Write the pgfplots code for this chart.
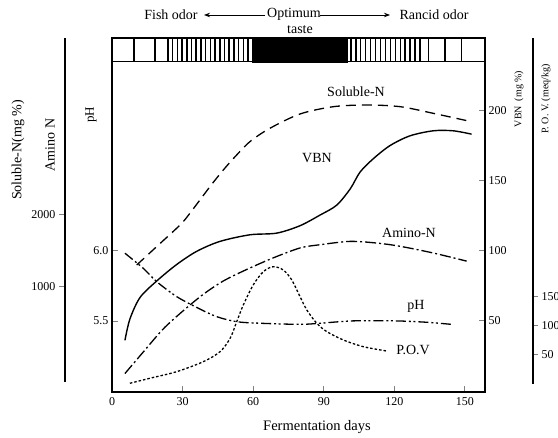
\documentclass[border=0pt]{standalone}
\usepackage{pgfplots}
\pgfplotsset{compat=1.18}
\usepackage{fontspec}
\setmainfont{Liberation Serif}
\usetikzlibrary{arrows.meta}
\newcommand{\fs}[1]{\fontsize{#1}{#1}\selectfont}

\pgfplotsset{
  frame/.style={at={(112pt,-392pt)}, anchor=south west, scale only axis,
    width=373pt, height=354pt, xmin=0, xmax=158.5},
  every tick label/.append style={font=\fs{12}},
  /pgf/number format/assume math mode=true,
  /pgf/number format/1000 sep={},
}

\begin{document}
\begin{tikzpicture}
\useasboundingbox (0pt,0pt) rectangle (558pt,-438pt);

% P.O.V. (meq/kg)
\begin{axis}[frame, hide axis, ymin=-13.2, ymax=593]
\addplot[smooth, line width=1.3pt, dash pattern=on 2.5pt off 2pt] coordinates {
  (7.6,1.7) (16.1,10.3) (27.5,21.6) (38.8,38.7) (45.9,55.8) (50.2,78.8)
  (53.0,107.2) (55.8,135.8) (60.0,170.0) (64.3,192.8) (68.5,201.4)
  (72.8,195.7) (76.4,178.6) (79.9,150.0) (82.8,127.2) (87.0,104.5)
  (91.3,90.1) (98.3,75.9) (106.8,64.4) (116.7,57.0)};
\end{axis}

% Soluble-N (mg %)
\begin{axis}[frame, hide axis, ymin=-456.4, ymax=4439.8]
\addplot[smooth, line width=1.3pt, dash pattern=on 10pt off 6pt] coordinates {
  (10.5,1300) (19.5,1570) (28.9,1853) (33.1,2015) (41.6,2383) (47.3,2614)
  (52.3,2798) (58.6,3006) (67.1,3191) (79.9,3389) (94.1,3490) (108.2,3513)
  (122.4,3490) (136.5,3398) (152.8,3282)};
\end{axis}

% pH
\begin{axis}[frame, ymin=4.993, ymax=7.521, axis line style={draw=none},
  xtick=\empty, ytick={5.5,6}, yticklabels={5.5,6.0}, ytick pos=left,
  tick align=inside, major tick length=6pt, tick style={line width=1pt}]
\addplot[smooth, line width=1.3pt,
  dash pattern=on 10pt off 3pt on 2pt off 2.5pt on 2pt off 3pt] coordinates {
  (5.5,5.984) (13.3,5.876) (19.0,5.781) (27.5,5.674) (36.7,5.591)
  (44.5,5.531) (53.0,5.495) (62.9,5.484) (79.9,5.476) (88.4,5.484)
  (101.1,5.500) (112.5,5.502) (122.4,5.500) (133.7,5.491) (144.3,5.476)};
\end{axis}

% main frame: VBN and Amino-N (mg %), odour scale
\begin{axis}[frame, ymin=-1.2, ymax=251.7,
  axis line style={line width=1.2pt},
  xtick={0,30,60,90,120,150}, xtick pos=bottom,
  ytick={50,100,150,200}, ytick pos=right, yticklabel pos=right,
  tick align=inside, major tick length=6pt, tick style={line width=1pt},
  xticklabel style={yshift=-2pt}]
% VBN
\addplot[smooth, line width=1.4pt] coordinates {
  (5.5,35.7) (7.6,50.9) (11.9,66.3) (19.0,78.1) (27.5,89.9) (36.0,99.3)
  (45.9,106.4) (58.6,111.1) (70.0,112.3) (79.9,117.6) (88.4,125.2)
  (95.5,132.3) (101.3,144.1) (105.4,155.9) (111.0,165.4) (118.1,174.8)
  (126.6,181.8) (136.5,185.4) (145.0,185.4) (152.8,183.0)};
% Amino-N
\addplot[smooth, line width=1.3pt,
  dash pattern=on 11pt off 3pt on 2pt off 3pt] coordinates {
  (5.5,12.0) (13.3,27.4) (21.8,43.9) (30.3,56.9) (38.8,68.6) (47.3,78.1)
  (57.2,86.3) (68.5,94.6) (79.9,101.7) (88.4,104.0) (101.1,106.4)
  (112.5,105.2) (122.4,102.9) (136.5,98.1) (150.7,92.3)};
% odour scale bar
\addplot[black, line width=1pt] coordinates {(0,234.7) (158.5,234.7)};
\addplot[fill=black, draw=black] coordinates {
  (59.5,234.7) (99.9,234.7) (99.9,251.7) (59.5,251.7)} -- cycle;
\addplot[draw=none, error bars/.cd, y dir=both, y fixed=8.5, error mark=none,
  error bar style={draw=black, line width=1.1pt}] coordinates {
  (9.35,243.2) (18.27,243.2) (134.3,243.2) (141.5,243.2) (148.7,243.2)};
\addplot[draw=none, error bars/.cd, y dir=both, y fixed=8.5, error mark=none,
  error bar style={draw=black, line width=1.5pt}] coordinates {
  (23.8,243.2) (25.8,243.2) (27.8,243.2) (29.8,243.2) (31.8,243.2)
  (33.8,243.2) (35.8,243.2) (37.8,243.2) (39.8,243.2) (41.8,243.2)
  (43.8,243.2) (45.8,243.2) (47.8,243.2) (49.8,243.2) (51.8,243.2)
  (53.8,243.2) (55.8,243.2) (57.8,243.2)
  (101.5,243.2) (103.6,243.2) (105.7,243.2) (107.8,243.2) (109.9,243.2)
  (112.0,243.2) (114.1,243.2) (116.2,243.2) (118.3,243.2) (120.4,243.2)
  (122.5,243.2) (124.6,243.2) (126.7,243.2) (128.8,243.2) (130.9,243.2)};
\end{axis}

% outer left axis: Soluble-N / Amino N
\begin{axis}[at={(65pt,-382pt)}, anchor=south west, scale only axis,
  width=20pt, height=344pt, xmin=0, xmax=1, ymin=-318.1, ymax=4439.8,
  axis x line=none, axis y line*=left, ytick={1000,2000},
  yticklabels={1000,2000}, tick align=outside, major tick length=6pt,
  axis line style={line width=1.2pt}, tick style={line width=1pt}]
\addplot[draw=none] coordinates {(0.5,0)};
\end{axis}

% outer right axis: P.O.V.
\begin{axis}[at={(533pt,-384pt)}, anchor=south east, scale only axis,
  width=20pt, height=346pt, xmin=0, xmax=1, ymin=-0.5, ymax=593,
  axis x line=none, axis y line*=right, ytick={50,100,150},
  tick align=outside, major tick length=5pt,
  axis line style={line width=1.2pt}, tick style={line width=1pt}]
\addplot[draw=none] coordinates {(0.5,0)};
\end{axis}

% axis titles
\node[rotate=90, font=\fs{14}] at (18pt,-150pt) {Soluble-N(mg \%)};
\node[rotate=90, font=\fs{14}] at (50pt,-145pt) {Amino N};
\node[rotate=90, font=\fs{13}] at (91pt,-115pt) {pH};
\node[rotate=90, font=\fs{10}] at (519pt,-99pt) {VBN \ (mg \%)};
\node[rotate=90, font=\fs{10}] at (546pt,-99pt) {P. O. V. (meq/kg)};
\node[font=\fs{14.5}] at (317pt,-427pt) {Fermentation days};

% top annotation
\node[font=\fs{14}] at (171pt,-14.5pt) {Fish odor};
\node[font=\fs{14}] at (294pt,-14.5pt) {Optimum};
\node[font=\fs{14}] at (434pt,-14.5pt) {Rancid odor};
\node[font=\fs{14}] at (300pt,-29.5pt) {taste};
\draw[-{Stealth[length=6pt]}, line width=0.8pt] (265pt,-15pt) -- (204pt,-15pt);
\draw[-{Stealth[length=6pt]}, line width=0.8pt] (320pt,-15pt) -- (390pt,-15pt);

% curve labels
\node[font=\fs{14}] at (356pt,-92pt) {Soluble-N};
\node[font=\fs{14}] at (317pt,-158pt) {VBN};
\node[font=\fs{14}] at (409pt,-233pt) {Amino-N};
\node[font=\fs{14}] at (416pt,-306pt) {pH};
\node[font=\fs{14}] at (413pt,-350pt) {P.O.V};
\end{tikzpicture}
\end{document}
